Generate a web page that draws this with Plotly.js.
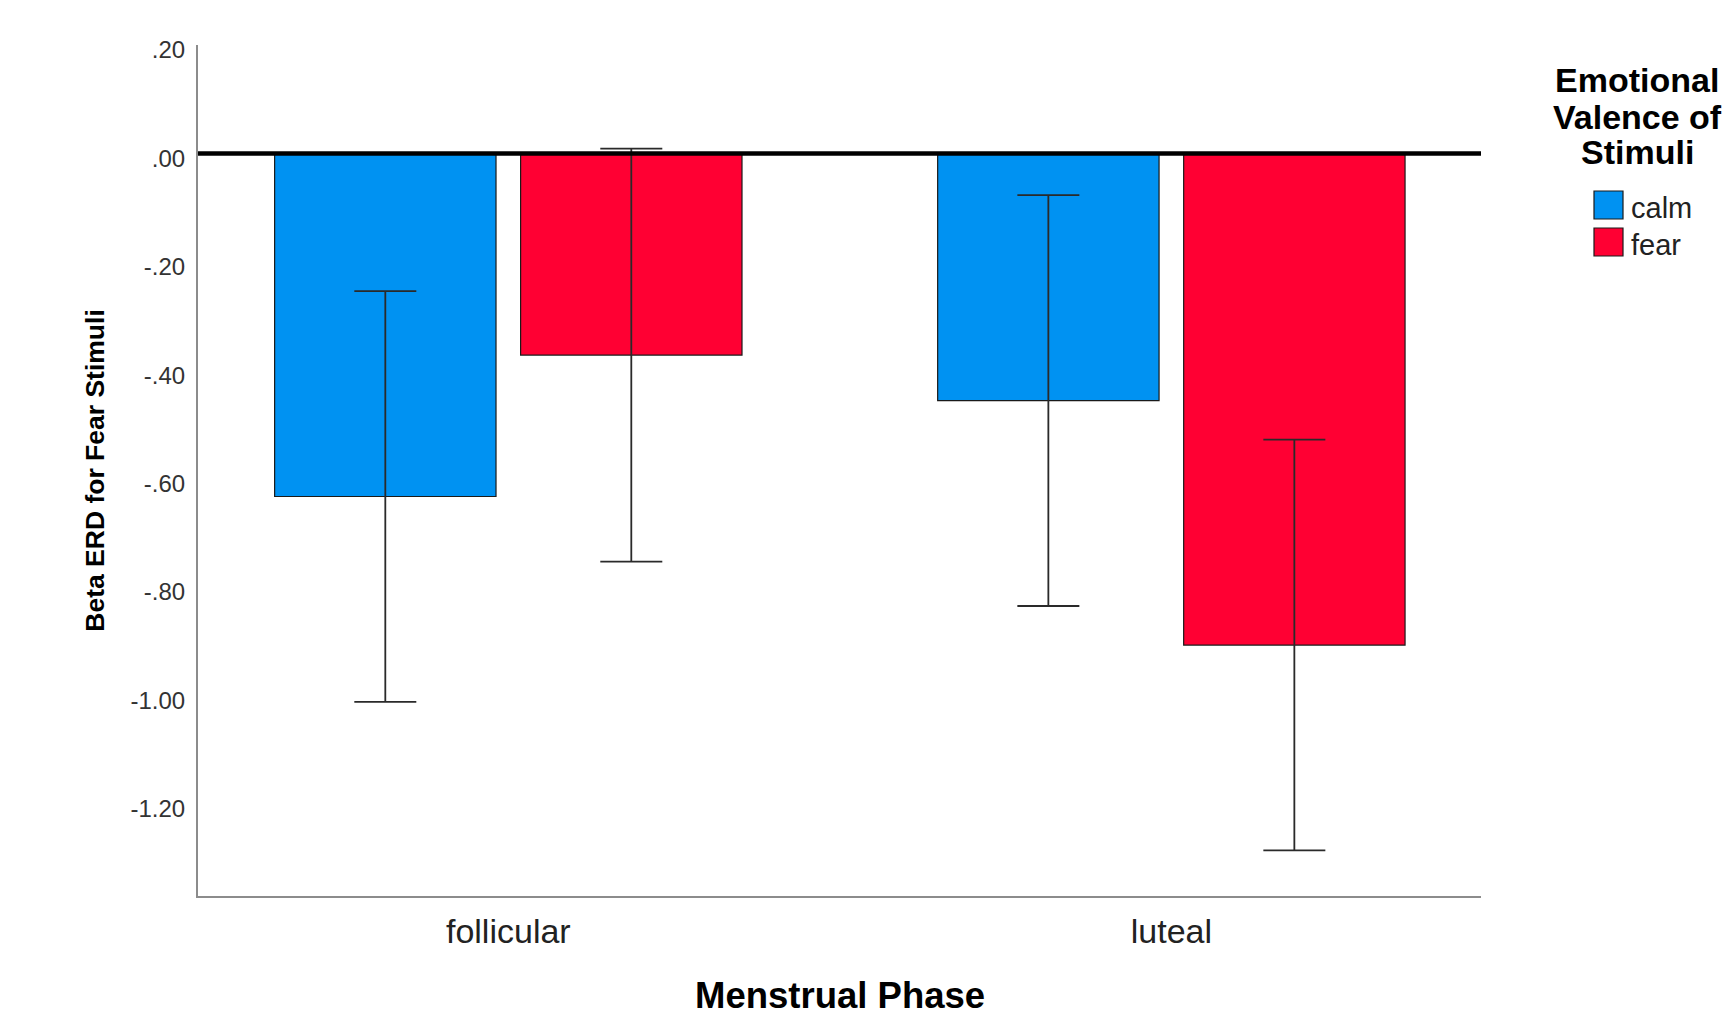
<!DOCTYPE html>
<html>
<head>
<meta charset="utf-8">
<script src="https://cdn.plot.ly/plotly-3.0.1.min.js"></script>
<style>html,body{margin:0;padding:0;background:#fff;}</style>
</head>
<body>
<div id="chart" style="width:1724px;height:1017px;"></div>
<script>
// ---- data ----
const phases = ["follicular", "luteal"];
const seriesNames = ["calm", "fear"];
const calmMeans = [-0.633, -0.456];
const fearMeans = [-0.372, -0.907];
const calmErr = [0.379, 0.379];
const fearErr = [0.381, 0.379];
const yTickVals = [0.2, 0.0, -0.2, -0.4, -0.6, -0.8, -1.0, -1.2];
const yTickText = [".20", ".00", "-.20", "-.40", "-.60", "-.80", "-1.00", "-1.20"];
const seriesColors = ["#0092f2", "#ff0033"];
const legendTitleLines = ["Emotional", "Valence of", "Stimuli"];
const xTitle = "Menstrual Phase";
const yTitle = "Beta ERD for Fear Stimuli";

// ---- layout geometry ----
const W = 1724, H = 1017;
const M = {l: 198, r: 243, t: 45, b: 121};
const PW = W - M.l - M.r, PH = H - M.t - M.b;
const px2x = p => (p - M.l) / PW;
const px2y = p => (H - M.b - p) / PH;

const FONT = "Liberation Sans, Arial, Helvetica, sans-serif";

function barTrace(name, means, errs, color) {
  return {
    type: "bar", name: name, x: phases, y: means,
    marker: {color: color, line: {color: "#1a1a1a", width: 1.2}},
    error_y: {type: "data", array: errs, visible: true, color: "#2a2a2a", thickness: 1.8, width: 31},
    showlegend: false, hoverinfo: "x+y+name"
  };
}

const traces = [
  barTrace(seriesNames[0], calmMeans, calmErr, seriesColors[0]),
  barTrace(seriesNames[1], fearMeans, fearErr, seriesColors[1])
];

const shapes = [
  {type: "line", xref: "paper", yref: "y", x0: 0, x1: 1, y0: 0, y1: 0,
   line: {color: "#000", width: 4.5}, layer: "above"}
];
const annotations = [];

// x-axis title (placed as annotation so it can sit low like the original)
annotations.push({
  xref: "paper", yref: "paper", x: 0.5, y: px2y(995),
  xanchor: "center", yanchor: "middle", showarrow: false, text: xTitle,
  font: {family: FONT, size: 36.5, color: "#000", weight: 700}
});

// legend title
const titleCentersY = [80, 117, 152];
legendTitleLines.forEach((t, i) => {
  annotations.push({
    xref: "paper", yref: "paper", x: px2x(1637), y: px2y(titleCentersY[i]),
    xanchor: "center", yanchor: "middle", showarrow: false, text: t,
    font: {family: FONT, size: 34, color: "#000", weight: 700}
  });
});
// legend items
const itemTop = [191, 228];
seriesNames.forEach((n, i) => {
  shapes.push({
    type: "rect", xref: "paper", yref: "paper",
    x0: px2x(1594), x1: px2x(1623), y0: px2y(itemTop[i]), y1: px2y(itemTop[i] + 28),
    fillcolor: seriesColors[i], line: {color: "#1a1a1a", width: 1.2}
  });
  annotations.push({
    xref: "paper", yref: "paper", x: px2x(1629), y: px2y(itemTop[i] + 17),
    xanchor: "left", yanchor: "middle", showarrow: false, text: n,
    font: {family: FONT, size: 29, color: "#222"}
  });
});

const layout = {
  width: W, height: H, autosize: false,
  margin: M,
  paper_bgcolor: "#fff", plot_bgcolor: "#fff",
  barmode: "group", bargap: 0.258, bargroupgap: 0.1,
  showlegend: false,
  font: {family: FONT, color: "#222"},
  xaxis: {
    type: "category", range: [-0.468, 1.467],
    showline: true, linecolor: "#8c8c8c", linewidth: 2,
    showgrid: false, zeroline: false, ticks: "",
    ticklabelstandoff: 4,
    tickfont: {family: FONT, size: 34, color: "#222"}
  },
  yaxis: {
    range: [-1.370, 0.200],
    tickmode: "array", tickvals: yTickVals, ticktext: yTickText,
    showline: true, linecolor: "#8c8c8c", linewidth: 2,
    showgrid: false, zeroline: false, ticks: "",
    ticklabelstandoff: 6, ticklabelshift: 5,
    tickfont: {family: FONT, size: 24, color: "#333"},
    title: {text: yTitle, standoff: 18,
            font: {family: FONT, size: 26.5, color: "#000", weight: 700}}
  },
  shapes: shapes,
  annotations: annotations
};

Plotly.newPlot("chart", traces, layout, {displayModeBar: false, staticPlot: true});
</script>
</body>
</html>
